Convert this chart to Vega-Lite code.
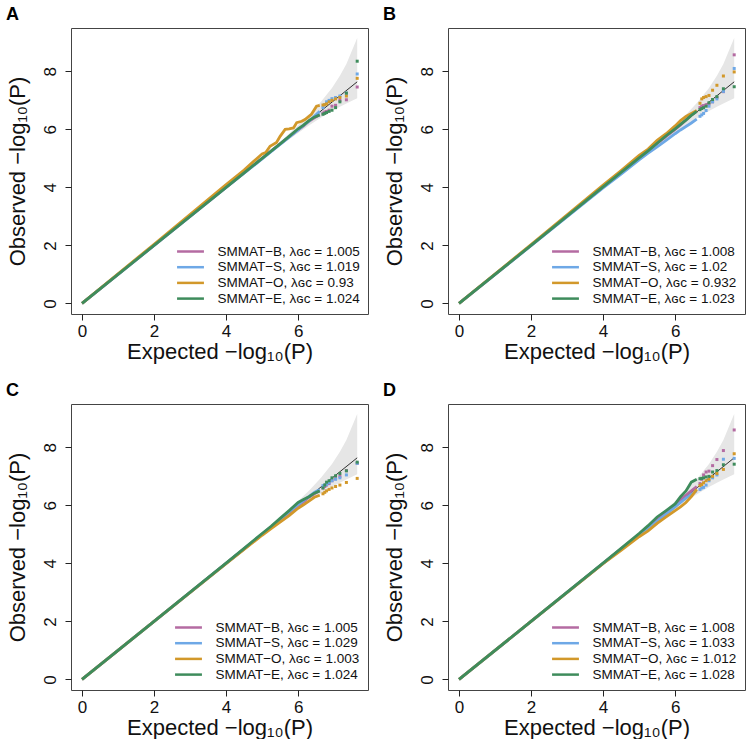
{
"$schema":"https://vega.github.io/schema/vega-lite/v6.json",
"background":"white",
"padding":{"left":5,"top":5,"right":0,"bottom":0},
"datasets":{
"ci":[{"e":0,"o":0,"o2":0},{"e":2,"o":1.998,"o2":2.002},{"e":3.64,"o":3.631,"o2":3.649},{"e":4.64,"o":4.614,"o2":4.668},{"e":5.34,"o":5.28,"o2":5.4},{"e":5.64,"o":5.557,"o2":5.729},{"e":5.94,"o":5.827,"o2":6.071},{"e":6.34,"o":6.168,"o2":6.553},{"e":6.64,"o":6.408,"o2":6.959},{"e":6.94,"o":6.63,"o2":7.43},{"e":7.16,"o":6.781,"o2":7.849},{"e":7.34,"o":6.894,"o2":8.256},{"e":7.64,"o":7.07,"o2":9.15}],
"diag":[{"e":0,"o":0},{"e":7.64,"o":7.64}],
"qq":[
{"p":"A","m":"B","e":0,"o":0},{"p":"A","m":"B","e":2,"o":2},{"p":"A","m":"B","e":4,"o":4},{"p":"A","m":"B","e":4.5,"o":4.5},{"p":"A","m":"B","e":5,"o":5},{"p":"A","m":"B","e":5.25,"o":5.25},{"p":"A","m":"B","e":5.5,"o":5.5},{"p":"A","m":"B","e":5.75,"o":5.74},{"p":"A","m":"B","e":6,"o":5.98},{"p":"A","m":"B","e":6.15,"o":6.12},{"p":"A","m":"B","e":6.3,"o":6.28},{"p":"A","m":"B","e":6.45,"o":6.4},{"p":"A","m":"B","e":6.6,"o":6.5},{"p":"A","m":"B","e":6.69,"o":6.56},{"p":"A","m":"B","e":6.74,"o":6.6},{"p":"A","m":"B","e":6.79,"o":6.62},{"p":"A","m":"B","e":6.86,"o":6.66},{"p":"A","m":"B","e":6.94,"o":6.8},{"p":"A","m":"B","e":7.04,"o":6.83},{"p":"A","m":"B","e":7.16,"o":7.0},{"p":"A","m":"B","e":7.34,"o":7.02},{"p":"A","m":"B","e":7.64,"o":7.46},
{"p":"A","m":"S","e":0,"o":0},{"p":"A","m":"S","e":2,"o":2},{"p":"A","m":"S","e":4,"o":4},{"p":"A","m":"S","e":4.5,"o":4.49},{"p":"A","m":"S","e":5,"o":4.98},{"p":"A","m":"S","e":5.25,"o":5.23},{"p":"A","m":"S","e":5.5,"o":5.48},{"p":"A","m":"S","e":5.75,"o":5.73},{"p":"A","m":"S","e":6,"o":5.98},{"p":"A","m":"S","e":6.15,"o":6.14},{"p":"A","m":"S","e":6.3,"o":6.28},{"p":"A","m":"S","e":6.45,"o":6.45},{"p":"A","m":"S","e":6.6,"o":6.62},{"p":"A","m":"S","e":6.69,"o":6.75},{"p":"A","m":"S","e":6.74,"o":6.85},{"p":"A","m":"S","e":6.79,"o":6.95},{"p":"A","m":"S","e":6.86,"o":7.0},{"p":"A","m":"S","e":6.94,"o":7.06},{"p":"A","m":"S","e":7.04,"o":7.1},{"p":"A","m":"S","e":7.16,"o":7.15},{"p":"A","m":"S","e":7.34,"o":7.25},{"p":"A","m":"S","e":7.64,"o":7.91},
{"p":"A","m":"O","e":0,"o":0},{"p":"A","m":"O","e":2,"o":2.04},{"p":"A","m":"O","e":4,"o":4.1},{"p":"A","m":"O","e":4.5,"o":4.6},{"p":"A","m":"O","e":4.75,"o":4.88},{"p":"A","m":"O","e":5,"o":5.15},{"p":"A","m":"O","e":5.1,"o":5.2},{"p":"A","m":"O","e":5.22,"o":5.42},{"p":"A","m":"O","e":5.4,"o":5.55},{"p":"A","m":"O","e":5.5,"o":5.76},{"p":"A","m":"O","e":5.64,"o":6.0},{"p":"A","m":"O","e":5.75,"o":6.02},{"p":"A","m":"O","e":5.87,"o":6.05},{"p":"A","m":"O","e":5.96,"o":6.23},{"p":"A","m":"O","e":6.1,"o":6.28},{"p":"A","m":"O","e":6.19,"o":6.34},{"p":"A","m":"O","e":6.3,"o":6.45},{"p":"A","m":"O","e":6.37,"o":6.52},{"p":"A","m":"O","e":6.51,"o":6.8},{"p":"A","m":"O","e":6.6,"o":6.83},{"p":"A","m":"O","e":6.69,"o":6.84},{"p":"A","m":"O","e":6.74,"o":6.85},{"p":"A","m":"O","e":6.79,"o":6.88},{"p":"A","m":"O","e":6.86,"o":6.95},{"p":"A","m":"O","e":6.94,"o":7.0},{"p":"A","m":"O","e":7.04,"o":7.05},{"p":"A","m":"O","e":7.16,"o":7.1},{"p":"A","m":"O","e":7.34,"o":7.15},{"p":"A","m":"O","e":7.64,"o":7.76},
{"p":"A","m":"E","e":0,"o":0},{"p":"A","m":"E","e":2,"o":2},{"p":"A","m":"E","e":4,"o":4},{"p":"A","m":"E","e":4.5,"o":4.5},{"p":"A","m":"E","e":5,"o":5},{"p":"A","m":"E","e":5.25,"o":5.25},{"p":"A","m":"E","e":5.5,"o":5.5},{"p":"A","m":"E","e":5.75,"o":5.76},{"p":"A","m":"E","e":6,"o":6.02},{"p":"A","m":"E","e":6.15,"o":6.15},{"p":"A","m":"E","e":6.3,"o":6.3},{"p":"A","m":"E","e":6.45,"o":6.42},{"p":"A","m":"E","e":6.6,"o":6.5},{"p":"A","m":"E","e":6.69,"o":6.52},{"p":"A","m":"E","e":6.74,"o":6.55},{"p":"A","m":"E","e":6.79,"o":6.58},{"p":"A","m":"E","e":6.86,"o":6.62},{"p":"A","m":"E","e":6.94,"o":6.66},{"p":"A","m":"E","e":7.04,"o":6.75},{"p":"A","m":"E","e":7.16,"o":6.95},{"p":"A","m":"E","e":7.34,"o":7.25},{"p":"A","m":"E","e":7.64,"o":8.35},
{"p":"B","m":"B","e":0,"o":0},{"p":"B","m":"B","e":2,"o":2},{"p":"B","m":"B","e":4,"o":4.02},{"p":"B","m":"B","e":4.5,"o":4.52},{"p":"B","m":"B","e":5,"o":5.03},{"p":"B","m":"B","e":5.25,"o":5.27},{"p":"B","m":"B","e":5.5,"o":5.52},{"p":"B","m":"B","e":5.75,"o":5.76},{"p":"B","m":"B","e":6,"o":6.0},{"p":"B","m":"B","e":6.15,"o":6.15},{"p":"B","m":"B","e":6.3,"o":6.32},{"p":"B","m":"B","e":6.45,"o":6.5},{"p":"B","m":"B","e":6.6,"o":6.62},{"p":"B","m":"B","e":6.69,"o":6.75},{"p":"B","m":"B","e":6.74,"o":6.8},{"p":"B","m":"B","e":6.79,"o":6.82},{"p":"B","m":"B","e":6.86,"o":6.85},{"p":"B","m":"B","e":6.94,"o":6.88},{"p":"B","m":"B","e":7.04,"o":6.95},{"p":"B","m":"B","e":7.16,"o":7.1},{"p":"B","m":"B","e":7.34,"o":7.3},{"p":"B","m":"B","e":7.64,"o":8.57},
{"p":"B","m":"S","e":0,"o":0},{"p":"B","m":"S","e":2,"o":1.99},{"p":"B","m":"S","e":4,"o":3.98},{"p":"B","m":"S","e":4.5,"o":4.46},{"p":"B","m":"S","e":5,"o":4.95},{"p":"B","m":"S","e":5.25,"o":5.18},{"p":"B","m":"S","e":5.5,"o":5.4},{"p":"B","m":"S","e":5.75,"o":5.62},{"p":"B","m":"S","e":6,"o":5.85},{"p":"B","m":"S","e":6.15,"o":5.98},{"p":"B","m":"S","e":6.3,"o":6.1},{"p":"B","m":"S","e":6.45,"o":6.22},{"p":"B","m":"S","e":6.6,"o":6.35},{"p":"B","m":"S","e":6.69,"o":6.45},{"p":"B","m":"S","e":6.74,"o":6.5},{"p":"B","m":"S","e":6.79,"o":6.55},{"p":"B","m":"S","e":6.86,"o":6.65},{"p":"B","m":"S","e":6.94,"o":6.8},{"p":"B","m":"S","e":7.04,"o":6.95},{"p":"B","m":"S","e":7.16,"o":7.05},{"p":"B","m":"S","e":7.34,"o":7.31},{"p":"B","m":"S","e":7.64,"o":8.1},
{"p":"B","m":"O","e":0,"o":0},{"p":"B","m":"O","e":2,"o":2.03},{"p":"B","m":"O","e":4,"o":4.08},{"p":"B","m":"O","e":4.5,"o":4.58},{"p":"B","m":"O","e":5,"o":5.1},{"p":"B","m":"O","e":5.25,"o":5.32},{"p":"B","m":"O","e":5.5,"o":5.62},{"p":"B","m":"O","e":5.75,"o":5.85},{"p":"B","m":"O","e":6,"o":6.12},{"p":"B","m":"O","e":6.15,"o":6.3},{"p":"B","m":"O","e":6.3,"o":6.45},{"p":"B","m":"O","e":6.45,"o":6.55},{"p":"B","m":"O","e":6.6,"o":6.65},{"p":"B","m":"O","e":6.69,"o":6.9},{"p":"B","m":"O","e":6.74,"o":7.05},{"p":"B","m":"O","e":6.79,"o":7.1},{"p":"B","m":"O","e":6.86,"o":7.13},{"p":"B","m":"O","e":6.94,"o":7.17},{"p":"B","m":"O","e":7.04,"o":7.35},{"p":"B","m":"O","e":7.16,"o":7.52},{"p":"B","m":"O","e":7.34,"o":7.84},{"p":"B","m":"O","e":7.64,"o":7.98},
{"p":"B","m":"E","e":0,"o":0},{"p":"B","m":"E","e":2,"o":2},{"p":"B","m":"E","e":4,"o":4.02},{"p":"B","m":"E","e":4.5,"o":4.52},{"p":"B","m":"E","e":5,"o":5.02},{"p":"B","m":"E","e":5.25,"o":5.26},{"p":"B","m":"E","e":5.5,"o":5.52},{"p":"B","m":"E","e":5.75,"o":5.78},{"p":"B","m":"E","e":6,"o":6.02},{"p":"B","m":"E","e":6.15,"o":6.17},{"p":"B","m":"E","e":6.3,"o":6.32},{"p":"B","m":"E","e":6.45,"o":6.48},{"p":"B","m":"E","e":6.6,"o":6.62},{"p":"B","m":"E","e":6.69,"o":6.68},{"p":"B","m":"E","e":6.74,"o":6.72},{"p":"B","m":"E","e":6.79,"o":6.75},{"p":"B","m":"E","e":6.86,"o":6.8},{"p":"B","m":"E","e":6.94,"o":6.92},{"p":"B","m":"E","e":7.04,"o":7.03},{"p":"B","m":"E","e":7.16,"o":7.13},{"p":"B","m":"E","e":7.34,"o":7.4},{"p":"B","m":"E","e":7.64,"o":7.47},
{"p":"C","m":"B","e":0,"o":0},{"p":"C","m":"B","e":2,"o":2},{"p":"C","m":"B","e":4,"o":4},{"p":"C","m":"B","e":4.5,"o":4.5},{"p":"C","m":"B","e":5,"o":5},{"p":"C","m":"B","e":5.25,"o":5.25},{"p":"C","m":"B","e":5.5,"o":5.5},{"p":"C","m":"B","e":5.75,"o":5.75},{"p":"C","m":"B","e":6,"o":6.0},{"p":"C","m":"B","e":6.15,"o":6.12},{"p":"C","m":"B","e":6.3,"o":6.28},{"p":"C","m":"B","e":6.45,"o":6.4},{"p":"C","m":"B","e":6.6,"o":6.5},{"p":"C","m":"B","e":6.69,"o":6.6},{"p":"C","m":"B","e":6.74,"o":6.65},{"p":"C","m":"B","e":6.79,"o":6.7},{"p":"C","m":"B","e":6.86,"o":6.75},{"p":"C","m":"B","e":6.94,"o":6.85},{"p":"C","m":"B","e":7.04,"o":6.92},{"p":"C","m":"B","e":7.16,"o":7.0},{"p":"C","m":"B","e":7.34,"o":7.2},{"p":"C","m":"B","e":7.64,"o":7.45},
{"p":"C","m":"S","e":0,"o":0},{"p":"C","m":"S","e":2,"o":2},{"p":"C","m":"S","e":4,"o":4},{"p":"C","m":"S","e":4.5,"o":4.5},{"p":"C","m":"S","e":5,"o":5.01},{"p":"C","m":"S","e":5.25,"o":5.26},{"p":"C","m":"S","e":5.5,"o":5.52},{"p":"C","m":"S","e":5.75,"o":5.78},{"p":"C","m":"S","e":6,"o":6.03},{"p":"C","m":"S","e":6.15,"o":6.17},{"p":"C","m":"S","e":6.3,"o":6.3},{"p":"C","m":"S","e":6.45,"o":6.45},{"p":"C","m":"S","e":6.6,"o":6.55},{"p":"C","m":"S","e":6.69,"o":6.68},{"p":"C","m":"S","e":6.74,"o":6.7},{"p":"C","m":"S","e":6.79,"o":6.72},{"p":"C","m":"S","e":6.86,"o":6.78},{"p":"C","m":"S","e":6.94,"o":6.85},{"p":"C","m":"S","e":7.04,"o":6.9},{"p":"C","m":"S","e":7.16,"o":6.95},{"p":"C","m":"S","e":7.34,"o":7.05},{"p":"C","m":"S","e":7.64,"o":7.45},
{"p":"C","m":"O","e":0,"o":0},{"p":"C","m":"O","e":2,"o":2},{"p":"C","m":"O","e":4,"o":3.99},{"p":"C","m":"O","e":4.5,"o":4.48},{"p":"C","m":"O","e":5,"o":4.97},{"p":"C","m":"O","e":5.25,"o":5.2},{"p":"C","m":"O","e":5.5,"o":5.42},{"p":"C","m":"O","e":5.75,"o":5.65},{"p":"C","m":"O","e":6,"o":5.9},{"p":"C","m":"O","e":6.15,"o":6.02},{"p":"C","m":"O","e":6.3,"o":6.15},{"p":"C","m":"O","e":6.45,"o":6.28},{"p":"C","m":"O","e":6.6,"o":6.35},{"p":"C","m":"O","e":6.69,"o":6.4},{"p":"C","m":"O","e":6.74,"o":6.45},{"p":"C","m":"O","e":6.79,"o":6.5},{"p":"C","m":"O","e":6.86,"o":6.55},{"p":"C","m":"O","e":6.94,"o":6.6},{"p":"C","m":"O","e":7.04,"o":6.65},{"p":"C","m":"O","e":7.16,"o":6.7},{"p":"C","m":"O","e":7.34,"o":6.79},{"p":"C","m":"O","e":7.64,"o":6.93},
{"p":"C","m":"E","e":0,"o":0},{"p":"C","m":"E","e":2,"o":2},{"p":"C","m":"E","e":4,"o":4.01},{"p":"C","m":"E","e":4.5,"o":4.52},{"p":"C","m":"E","e":5,"o":5.03},{"p":"C","m":"E","e":5.25,"o":5.28},{"p":"C","m":"E","e":5.5,"o":5.55},{"p":"C","m":"E","e":5.75,"o":5.82},{"p":"C","m":"E","e":6,"o":6.1},{"p":"C","m":"E","e":6.15,"o":6.2},{"p":"C","m":"E","e":6.3,"o":6.3},{"p":"C","m":"E","e":6.45,"o":6.42},{"p":"C","m":"E","e":6.6,"o":6.5},{"p":"C","m":"E","e":6.69,"o":6.6},{"p":"C","m":"E","e":6.74,"o":6.7},{"p":"C","m":"E","e":6.79,"o":6.8},{"p":"C","m":"E","e":6.86,"o":6.85},{"p":"C","m":"E","e":6.94,"o":6.95},{"p":"C","m":"E","e":7.04,"o":7.02},{"p":"C","m":"E","e":7.16,"o":7.1},{"p":"C","m":"E","e":7.34,"o":7.19},{"p":"C","m":"E","e":7.64,"o":7.49},
{"p":"D","m":"B","e":0,"o":0},{"p":"D","m":"B","e":2,"o":2},{"p":"D","m":"B","e":4,"o":4},{"p":"D","m":"B","e":4.5,"o":4.5},{"p":"D","m":"B","e":5,"o":5.0},{"p":"D","m":"B","e":5.25,"o":5.25},{"p":"D","m":"B","e":5.5,"o":5.5},{"p":"D","m":"B","e":5.75,"o":5.75},{"p":"D","m":"B","e":6,"o":6.02},{"p":"D","m":"B","e":6.15,"o":6.2},{"p":"D","m":"B","e":6.3,"o":6.35},{"p":"D","m":"B","e":6.45,"o":6.5},{"p":"D","m":"B","e":6.6,"o":6.65},{"p":"D","m":"B","e":6.69,"o":6.75},{"p":"D","m":"B","e":6.74,"o":6.9},{"p":"D","m":"B","e":6.79,"o":7.05},{"p":"D","m":"B","e":6.86,"o":7.15},{"p":"D","m":"B","e":6.94,"o":7.18},{"p":"D","m":"B","e":7.04,"o":7.37},{"p":"D","m":"B","e":7.16,"o":7.58},{"p":"D","m":"B","e":7.34,"o":7.89},{"p":"D","m":"B","e":7.64,"o":8.6},
{"p":"D","m":"S","e":0,"o":0},{"p":"D","m":"S","e":2,"o":2},{"p":"D","m":"S","e":4,"o":4},{"p":"D","m":"S","e":4.5,"o":4.49},{"p":"D","m":"S","e":5,"o":4.98},{"p":"D","m":"S","e":5.25,"o":5.22},{"p":"D","m":"S","e":5.5,"o":5.45},{"p":"D","m":"S","e":5.75,"o":5.7},{"p":"D","m":"S","e":6,"o":5.95},{"p":"D","m":"S","e":6.15,"o":6.1},{"p":"D","m":"S","e":6.3,"o":6.25},{"p":"D","m":"S","e":6.45,"o":6.38},{"p":"D","m":"S","e":6.6,"o":6.5},{"p":"D","m":"S","e":6.69,"o":6.55},{"p":"D","m":"S","e":6.74,"o":6.6},{"p":"D","m":"S","e":6.79,"o":6.62},{"p":"D","m":"S","e":6.86,"o":6.7},{"p":"D","m":"S","e":6.94,"o":6.85},{"p":"D","m":"S","e":7.04,"o":6.95},{"p":"D","m":"S","e":7.16,"o":7.05},{"p":"D","m":"S","e":7.34,"o":7.59},{"p":"D","m":"S","e":7.64,"o":7.62},
{"p":"D","m":"O","e":0,"o":0},{"p":"D","m":"O","e":2,"o":2},{"p":"D","m":"O","e":4,"o":3.99},{"p":"D","m":"O","e":4.5,"o":4.45},{"p":"D","m":"O","e":5,"o":4.92},{"p":"D","m":"O","e":5.25,"o":5.12},{"p":"D","m":"O","e":5.5,"o":5.38},{"p":"D","m":"O","e":5.75,"o":5.6},{"p":"D","m":"O","e":6,"o":5.82},{"p":"D","m":"O","e":6.15,"o":5.95},{"p":"D","m":"O","e":6.3,"o":6.1},{"p":"D","m":"O","e":6.45,"o":6.3},{"p":"D","m":"O","e":6.6,"o":6.55},{"p":"D","m":"O","e":6.69,"o":6.68},{"p":"D","m":"O","e":6.74,"o":6.72},{"p":"D","m":"O","e":6.79,"o":6.78},{"p":"D","m":"O","e":6.86,"o":6.85},{"p":"D","m":"O","e":6.94,"o":6.9},{"p":"D","m":"O","e":7.04,"o":7.0},{"p":"D","m":"O","e":7.16,"o":7.1},{"p":"D","m":"O","e":7.34,"o":7.24},{"p":"D","m":"O","e":7.64,"o":7.78},
{"p":"D","m":"E","e":0,"o":0},{"p":"D","m":"E","e":2,"o":2},{"p":"D","m":"E","e":4,"o":4.01},{"p":"D","m":"E","e":4.5,"o":4.52},{"p":"D","m":"E","e":5,"o":5.03},{"p":"D","m":"E","e":5.25,"o":5.3},{"p":"D","m":"E","e":5.5,"o":5.6},{"p":"D","m":"E","e":5.75,"o":5.82},{"p":"D","m":"E","e":6,"o":6.05},{"p":"D","m":"E","e":6.15,"o":6.3},{"p":"D","m":"E","e":6.3,"o":6.5},{"p":"D","m":"E","e":6.45,"o":6.8},{"p":"D","m":"E","e":6.6,"o":6.9},{"p":"D","m":"E","e":6.69,"o":6.92},{"p":"D","m":"E","e":6.74,"o":6.93},{"p":"D","m":"E","e":6.79,"o":6.95},{"p":"D","m":"E","e":6.86,"o":6.98},{"p":"D","m":"E","e":6.94,"o":7.0},{"p":"D","m":"E","e":7.04,"o":7.15},{"p":"D","m":"E","e":7.16,"o":7.2},{"p":"D","m":"E","e":7.34,"o":7.4},{"p":"D","m":"E","e":7.64,"o":7.42}
]},
"columns":2,
"spacing":{"column":13,"row":18},
"resolve":{"scale":{"color":"independent"},"legend":{"color":"independent"}},
"concat":[
{"title":"A","width":297,"height":286,
"encoding":{"x":{"field":"e","type":"quantitative","scale":{"domain":[-0.306,7.94],"nice":false,"zero":false},"axis":{"values":[0,2,4,6]},"title":"Expected  −log₁₀(P)"},"y":{"field":"o","type":"quantitative","scale":{"domain":[-0.365,9.495],"nice":false,"zero":false},"axis":{"values":[0,2,4,6,8]},"title":"Observed  −log₁₀(P)"}},
"layer":[
{"data":{"name":"ci"},"mark":{"type":"area","color":"#E6E6E6","opacity":1},"encoding":{"y2":{"field":"o2"}}},
{"data":{"name":"diag"},"mark":{"type":"line","color":"#000","strokeWidth":0.8},"encoding":{}},
{"data":{"name":"qq"},"transform":[{"filter":"datum.p=='A' && datum.e<=6.6"}],"mark":{"type":"line","strokeWidth":2.8},"encoding":{"color":{"field":"m","type":"nominal","scale":{"domain":["B","S","O","E"],"range":["#B46BA2","#6EA8E6","#D2982A","#3E8C5C"]},"legend":{"labelExpr":"datum.label=='B'?'SMMAT−B, λɢᴄ = 1.005':datum.label=='S'?'SMMAT−S, λɢᴄ = 1.019':datum.label=='O'?'SMMAT−O, λɢᴄ = 0.93':'SMMAT−E, λɢᴄ = 1.024'"}}}},
{"data":{"name":"qq"},"transform":[{"filter":"datum.p=='A' && datum.e>6.6"}],"mark":{"type":"square","filled":true,"size":9,"opacity":1},"encoding":{"color":{"field":"m","type":"nominal"}}}
]},
{"title":"B","width":297,"height":286,
"encoding":{"x":{"field":"e","type":"quantitative","scale":{"domain":[-0.306,7.94],"nice":false,"zero":false},"axis":{"values":[0,2,4,6]},"title":"Expected  −log₁₀(P)"},"y":{"field":"o","type":"quantitative","scale":{"domain":[-0.365,9.495],"nice":false,"zero":false},"axis":{"values":[0,2,4,6,8]},"title":"Observed  −log₁₀(P)"}},
"layer":[
{"data":{"name":"ci"},"mark":{"type":"area","color":"#E6E6E6","opacity":1},"encoding":{"y2":{"field":"o2"}}},
{"data":{"name":"diag"},"mark":{"type":"line","color":"#000","strokeWidth":0.8},"encoding":{}},
{"data":{"name":"qq"},"transform":[{"filter":"datum.p=='B' && datum.e<=6.6"}],"mark":{"type":"line","strokeWidth":2.8},"encoding":{"color":{"field":"m","type":"nominal","scale":{"domain":["B","S","O","E"],"range":["#B46BA2","#6EA8E6","#D2982A","#3E8C5C"]},"legend":{"labelExpr":"datum.label=='B'?'SMMAT−B, λɢᴄ = 1.008':datum.label=='S'?'SMMAT−S, λɢᴄ = 1.02':datum.label=='O'?'SMMAT−O, λɢᴄ = 0.932':'SMMAT−E, λɢᴄ = 1.023'"}}}},
{"data":{"name":"qq"},"transform":[{"filter":"datum.p=='B' && datum.e>6.6"}],"mark":{"type":"square","filled":true,"size":9,"opacity":1},"encoding":{"color":{"field":"m","type":"nominal"}}}
]},
{"title":"C","width":297,"height":286,
"encoding":{"x":{"field":"e","type":"quantitative","scale":{"domain":[-0.306,7.94],"nice":false,"zero":false},"axis":{"values":[0,2,4,6]},"title":"Expected  −log₁₀(P)"},"y":{"field":"o","type":"quantitative","scale":{"domain":[-0.365,9.495],"nice":false,"zero":false},"axis":{"values":[0,2,4,6,8]},"title":"Observed  −log₁₀(P)"}},
"layer":[
{"data":{"name":"ci"},"mark":{"type":"area","color":"#E6E6E6","opacity":1},"encoding":{"y2":{"field":"o2"}}},
{"data":{"name":"diag"},"mark":{"type":"line","color":"#000","strokeWidth":0.8},"encoding":{}},
{"data":{"name":"qq"},"transform":[{"filter":"datum.p=='C' && datum.e<=6.6"}],"mark":{"type":"line","strokeWidth":2.8},"encoding":{"color":{"field":"m","type":"nominal","scale":{"domain":["B","S","O","E"],"range":["#B46BA2","#6EA8E6","#D2982A","#3E8C5C"]},"legend":{"labelExpr":"datum.label=='B'?'SMMAT−B, λɢᴄ = 1.005':datum.label=='S'?'SMMAT−S, λɢᴄ = 1.029':datum.label=='O'?'SMMAT−O, λɢᴄ = 1.003':'SMMAT−E, λɢᴄ = 1.024'"}}}},
{"data":{"name":"qq"},"transform":[{"filter":"datum.p=='C' && datum.e>6.6"}],"mark":{"type":"square","filled":true,"size":9,"opacity":1},"encoding":{"color":{"field":"m","type":"nominal"}}}
]},
{"title":"D","width":297,"height":286,
"encoding":{"x":{"field":"e","type":"quantitative","scale":{"domain":[-0.306,7.94],"nice":false,"zero":false},"axis":{"values":[0,2,4,6]},"title":"Expected  −log₁₀(P)"},"y":{"field":"o","type":"quantitative","scale":{"domain":[-0.365,9.495],"nice":false,"zero":false},"axis":{"values":[0,2,4,6,8]},"title":"Observed  −log₁₀(P)"}},
"layer":[
{"data":{"name":"ci"},"mark":{"type":"area","color":"#E6E6E6","opacity":1},"encoding":{"y2":{"field":"o2"}}},
{"data":{"name":"diag"},"mark":{"type":"line","color":"#000","strokeWidth":0.8},"encoding":{}},
{"data":{"name":"qq"},"transform":[{"filter":"datum.p=='D' && datum.e<=6.6"}],"mark":{"type":"line","strokeWidth":2.8},"encoding":{"color":{"field":"m","type":"nominal","scale":{"domain":["B","S","O","E"],"range":["#B46BA2","#6EA8E6","#D2982A","#3E8C5C"]},"legend":{"labelExpr":"datum.label=='B'?'SMMAT−B, λɢᴄ = 1.008':datum.label=='S'?'SMMAT−S, λɢᴄ = 1.033':datum.label=='O'?'SMMAT−O, λɢᴄ = 1.012':'SMMAT−E, λɢᴄ = 1.028'"}}}},
{"data":{"name":"qq"},"transform":[{"filter":"datum.p=='D' && datum.e>6.6"}],"mark":{"type":"square","filled":true,"size":9,"opacity":1},"encoding":{"color":{"field":"m","type":"nominal"}}}
]}
],
"config":{
"font":"Liberation Sans",
"view":{"stroke":"#444","strokeWidth":1},
"axis":{"grid":false,"domain":false,"ticks":true,"tickColor":"#222","tickSize":6,"labelFont":"Liberation Sans","labelFontSize":17,"labelColor":"#111","titleFont":"Liberation Sans","titleFontSize":22,"titleFontWeight":"normal","titleColor":"#111"},
"axisX":{"labelPadding":3,"titlePadding":2},
"axisY":{"labelAngle":-90,"labelPadding":6,"titlePadding":12},
"title":{"font":"Liberation Sans","fontSize":18,"fontWeight":"bold","anchor":"start","color":"#000","offset":4},
"legend":{"orient":"bottom-right","title":null,"symbolType":"M-1.9,0L1.9,0","symbolSize":200,"symbolStrokeWidth":2.5,"labelFont":"Liberation Sans","labelFontSize":13.5,"labelColor":"#111","rowPadding":0.7,"offset":8,"labelOffset":18.4,"labelLimit":400,"padding":0}
}
}
